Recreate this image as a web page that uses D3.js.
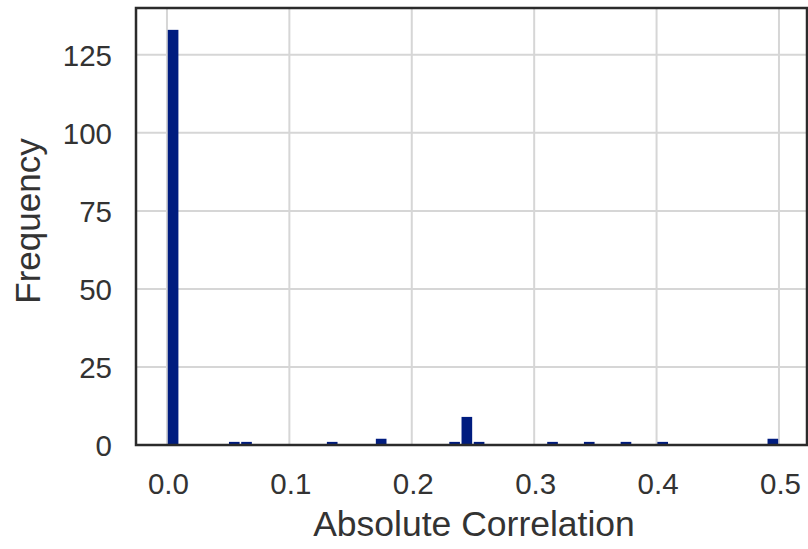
<!DOCTYPE html>
<html>
<head>
<meta charset="utf-8">
<script src="https://cdn.jsdelivr.net/npm/d3@7/dist/d3.min.js"></script>
<style>
  html, body { margin: 0; padding: 0; background: #ffffff; }
  svg { display: block; }
  text { font-family: "Liberation Sans", Arial, sans-serif; fill: #333333; }
</style>
</head>
<body>
<svg id="chart" width="808" height="549"></svg>
<script>
// Histogram bins (start of bin, width 0.01) and their counts
const binStarts = [0.00, 0.05, 0.06, 0.13, 0.17, 0.23, 0.24, 0.25, 0.31, 0.34, 0.37, 0.40, 0.49];
const counts    = [133,  1,    1,    1,    2,    1,    9,    1,    1,    1,    1,    1,    2];
const binWidth = 0.01;
const xTicks = [0.0, 0.1, 0.2, 0.3, 0.4, 0.5];
const yTicks = [0, 25, 50, 75, 100, 125];
const xLabel = "Absolute Correlation";
const yLabel = "Frequency";

const svg = d3.select("#chart");
const L = 136, R = 807, T = 8, B = 445;

const x = d3.scaleLinear().domain([-0.0253, 0.5229]).range([L, R]);
const y = d3.scaleLinear().domain([0, 140]).range([B, T]);

// grid
const grid = svg.append("g");
grid.selectAll("line.vx").data(xTicks).join("line")
  .attr("x1", d => x(d)).attr("x2", d => x(d))
  .attr("y1", T).attr("y2", B)
  .attr("stroke", "#d6d6d6").attr("stroke-width", 2);
grid.selectAll("line.hy").data(yTicks).join("line")
  .attr("x1", L).attr("x2", R)
  .attr("y1", d => y(d)).attr("y2", d => y(d))
  .attr("stroke", "#d6d6d6").attr("stroke-width", 2);

// bars
const data = binStarts.map((s, i) => ({ s, c: counts[i] }));
svg.append("g").selectAll("rect").data(data).join("rect")
  .attr("x", d => x(d.s) + 0.8)
  .attr("width", d => x(d.s + binWidth) - x(d.s) - 1.6)
  .attr("y", d => y(d.c))
  .attr("height", d => y(0) - y(d.c))
  .attr("fill", "#001c7f");

// axes (tick labels only)
const xAxis = d3.axisBottom(x).tickValues(xTicks).tickFormat(d3.format(".1f")).tickSize(0).tickPadding(0);
const gx = svg.append("g").attr("transform", `translate(0,${B})`).call(xAxis);
gx.select(".domain").remove();
gx.selectAll("text")
  .attr("y", 0).attr("dy", 0)
  .attr("transform", "translate(1,49)")
  .style("font-size", "29.5px").style("font-family", "Liberation Sans, Arial, sans-serif").attr("fill", "#333333");

const yAxis = d3.axisLeft(y).tickValues(yTicks).tickSize(0).tickPadding(0);
const gy = svg.append("g").attr("transform", `translate(${L},0)`).call(yAxis);
gy.select(".domain").remove();
gy.selectAll("text")
  .attr("x", -24).attr("dy", "0.36em")
  .style("font-size", "29.5px").style("font-family", "Liberation Sans, Arial, sans-serif").attr("fill", "#333333");

// frame
svg.append("rect")
  .attr("x", L).attr("y", T).attr("width", R - L).attr("height", B - T)
  .attr("fill", "none").attr("stroke", "#2b2b2b").attr("stroke-width", 2.5);

// axis titles
svg.append("text")
  .attr("x", 474).attr("y", 536)
  .attr("text-anchor", "middle")
  .style("font-size", "35.5px")
  .text(xLabel);

svg.append("text")
  .attr("transform", "translate(40,221) rotate(-90)")
  .attr("text-anchor", "middle")
  .style("font-size", "35px")
  .text(yLabel);
</script>
</body>
</html>
